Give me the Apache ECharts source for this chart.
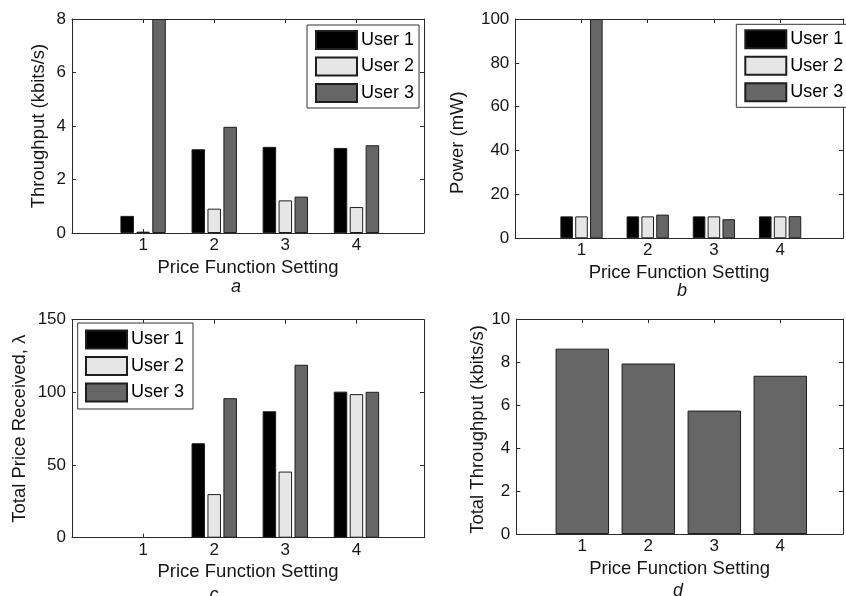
<!DOCTYPE html>
<html>
<head>
<meta charset="utf-8">
<script src="https://cdn.jsdelivr.net/npm/echarts@6/dist/echarts.min.js"></script>
<style>
  html, body { margin: 0; padding: 0; background: #fff; }
  #chart { width: 846px; height: 596px; }
</style>
</head>
<body>
<div id="chart"></div>
<script>
// ---- data ----
const settings = [1, 2, 3, 4];
const userNames = ['User 1', 'User 2', 'User 3'];
const xTickLabels = ['1', '2', '3', '4'];

// (a) Throughput per user (kbits/s)
const throughputUser1 = [0.64, 3.13, 3.22, 3.18];
const throughputUser2 = [0.05, 0.91, 1.22, 0.97];
const throughputUser3 = [8.0, 3.97, 1.36, 3.28];

// (b) Power per user (mW)
const powerUser1 = [10, 10, 10, 10];
const powerUser2 = [10, 10, 10, 10];
const powerUser3 = [100, 10.8, 8.7, 10.1];

// (c) Total price received per user
const priceUser1 = [0, 65, 87, 100.5];
const priceUser2 = [0, 30, 45.5, 98.8];
const priceUser3 = [0, 96, 119, 100.4];

// (d) Total throughput (kbits/s)
const totalThroughput = [8.62, 7.93, 5.74, 7.36];

// ---- styling / layout ----
const FONT = "'Liberation Sans', Arial, Helvetica, sans-serif";
const TXT = '#161616';
const AX = '#2a2a2a';
const userColors = ['#000000', '#e6e6e6', '#666666'];

const panels = [
  { left: 72,    top: 19,    width: 352, height: 214,   xmax: 4.95, ymax: 8,   yint: 2,
    yname: 'Throughput (kbits/s)', ynameGap: 24, ynamePad: [0,0,0,0],
    series: [throughputUser1, throughputUser2, throughputUser3], tag: 'a', tagX: 236, tagY: 287 },
  { left: 515.3, top: 19,    width: 336, height: 219.3, xmax: 4.95, ymax: 100, yint: 20,
    yname: 'Power (mW)', ynameGap: 48, ynamePad: [0,28,0,0],
    series: [powerUser1, powerUser2, powerUser3], tag: 'b', tagX: 682, tagY: 291 },
  { left: 72,    top: 319.7, width: 352, height: 218,   xmax: 4.95, ymax: 150, yint: 50,
    yname: 'Total Price Received, \u03bb', ynameGap: 43, ynamePad: [0,0,0,0],
    series: [priceUser1, priceUser2, priceUser3], tag: 'c', tagX: 214, tagY: 595 },
  { left: 516.3, top: 319,   width: 336, height: 215,   xmax: 4.95, ymax: 10,  yint: 2,
    yname: 'Total Throughput (kbits/s)', ynameGap: 26, ynamePad: [0,6,0,0],
    series: [totalThroughput], tag: 'd', tagX: 678, tagY: 591 }
];

const grids = [], xAxes = [], yAxes = [], series = [], graphics = [];

panels.forEach((p, i) => {
  grids.push({ left: p.left, top: p.top, width: p.width, height: p.height, show: false });
  const tickStyle = { show: true, inside: true, length: 4, lineStyle: { color: AX, width: 1 } };
  const lineStyle = { show: true, onZero: false, lineStyle: { color: AX, width: 1 } };
  xAxes.push({
    gridIndex: i, type: 'value', position: 'bottom', min: 0, max: p.xmax, interval: 1,
    axisLine: lineStyle, axisTick: tickStyle, splitLine: { show: false },
    axisLabel: {
      margin: 4, fontSize: 17, color: TXT, fontFamily: FONT,
      formatter: v => { const k = settings.indexOf(v); return k >= 0 ? xTickLabels[k] : ''; }
    },
    name: 'Price Function Setting', nameLocation: 'middle', nameGap: 25,
    nameTextStyle: { fontSize: 18.5, color: TXT, fontFamily: FONT }
  });
  xAxes.push({
    gridIndex: i, type: 'value', position: 'top', min: 0, max: p.xmax, interval: 1,
    axisLine: lineStyle, axisTick: tickStyle, splitLine: { show: false },
    axisLabel: { show: false }
  });
  yAxes.push({
    gridIndex: i, type: 'value', position: 'left', min: 0, max: p.ymax, interval: p.yint,
    axisLine: lineStyle, axisTick: tickStyle, splitLine: { show: false },
    axisLabel: { margin: 6, fontSize: 17, color: TXT, fontFamily: FONT },
    name: p.yname, nameLocation: 'middle', nameGap: p.ynameGap,
    nameTextStyle: { fontSize: 18.5, color: TXT, fontFamily: FONT, padding: p.ynamePad }
  });
  yAxes.push({
    gridIndex: i, type: 'value', position: 'right', min: 0, max: p.ymax, interval: p.yint,
    axisLine: lineStyle, axisTick: tickStyle, splitLine: { show: false },
    axisLabel: { show: false }
  });

  const single = p.series.length === 1;
  p.series.forEach((vals, s) => {
    series.push({
      type: 'bar',
      name: single ? 'Total' : userNames[s],
      xAxisIndex: 2 * i, yAxisIndex: 2 * i,
      // zero-height bars are left without an outline (nothing visible, as in the figure)
      data: settings.map((x, k) => vals[k] === 0
        ? { value: [x, vals[k]], itemStyle: { borderWidth: 0 } }
        : [x, vals[k]]),
      barWidth: single ? '81%' : '19%',
      barGap: '18%',
      clip: true,
      itemStyle: { color: single ? '#666666' : userColors[s], borderColor: '#1e1e1e', borderWidth: 1 },
      emphasis: { disabled: true },
      animation: false
    });
  });

  graphics.push({
    type: 'text', x: p.tagX, y: p.tagY,
    style: { text: p.tag, fill: TXT, font: "italic 18px 'Liberation Sans', Arial, sans-serif", align: 'center', verticalAlign: 'middle' }
  });
});

function legendAt(left, top, padding) {
  return {
    data: userNames, orient: 'vertical', left: left, top: top,
    itemWidth: 41, itemHeight: 18, itemGap: 6.5, padding: padding,
    borderColor: '#333', borderWidth: 1, backgroundColor: '#fff',
    icon: 'rect', selectedMode: false,
    textStyle: { fontSize: 18, color: '#000', fontFamily: FONT, padding: [0, 0, 0, -1] }
  };
}

const option = {
  backgroundColor: '#ffffff',
  animation: false,
  textStyle: { fontFamily: FONT },
  grid: grids,
  xAxis: xAxes,
  yAxis: yAxes,
  legend: [
    legendAt(307, 25, [5, 5, 5, 8]),
    legendAt(736.3, 24.3, [5, 5, 5, 8]),
    legendAt(77.7, 323, [6.5, 9, 6.5, 7.3])
  ],
  series: series,
  graphic: graphics
};

const chart = echarts.init(document.getElementById('chart'), null, { renderer: 'canvas' });
chart.setOption(option);
</script>
</body>
</html>
